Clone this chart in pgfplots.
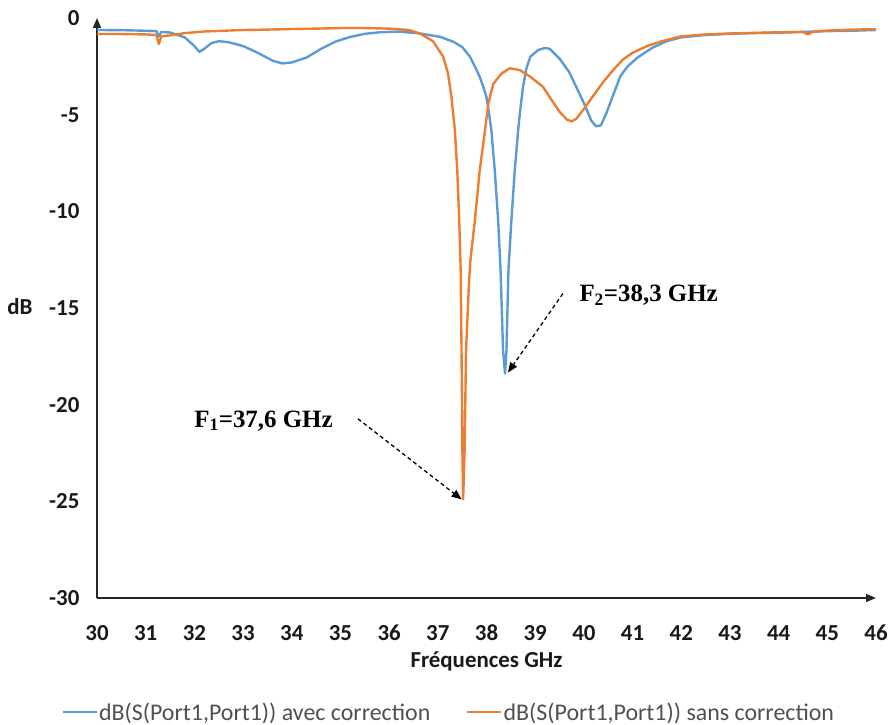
\documentclass[border=0pt]{standalone}
\usepackage{pgfplots}
\pgfplotsset{compat=1.18}
\usepackage{fontspec}
\setmainfont{Carlito}
\newfontfamily\timesfont{Liberation Serif}
\usetikzlibrary{arrows.meta}
\definecolor{cblue}{RGB}{91,155,213}
\definecolor{corange}{RGB}{237,125,49}
\definecolor{legtext}{RGB}{80,80,80}
\begin{document}
\begin{tikzpicture}
\begin{axis}[name=ax, scale only axis, width=779bp, height=580bp,
  xmin=30, xmax=46, ymin=-30, ymax=0,
  axis lines=left,
  axis line style={line width=1.6bp, color=black!85, -{Triangle[length=10bp,width=8bp]}},
  xtick={30,31,32,33,34,35,36,37,38,39,40,41,42,43,44,45,46},
  xticklabels={30,31,32,33,34,35,36,37,38,39,40,41,42,43,44,45,46},
  ytick={-30,-25,-20,-15,-10,-5,0},
  yticklabels={-30,-25,-20,-15,-10,-5,0},
  major tick length=0pt,
  tick label style={font=\fontsize{23}{27}\selectfont\bfseries, text=black!90},
  xticklabel style={anchor=center, yshift=-35bp},
  yticklabel style={anchor=east, xshift=-14bp},
  xlabel={Fréquences GHz},
  xlabel style={font=\fontsize{23}{27}\selectfont\bfseries, text=black!90, at={(axis description cs:0.5,-0.110)}, anchor=center},
  ylabel={dB},
  ylabel style={font=\fontsize{23}{27}\selectfont\bfseries, text=black!90, rotate=-90, at={(axis description cs:-0.099,0.502)}, anchor=center},
  legend columns=2,
  legend style={at={(axis description cs:0.451,-0.197)}, anchor=center, draw=none,
    font=\fontsize{24}{28}\selectfont,
    nodes={inner sep=1bp, text=legtext},
    /tikz/every even column/.append style={column sep=35bp}},
  legend image code/.code={\draw[#1] (0bp,0bp) -- (34bp,0bp);},
  clip=false,
]
\addplot[color=cblue, line width=2.4bp, line join=round] coordinates {
(30.0,-0.62) (30.5,-0.63) (31.0,-0.66) (31.22,-0.68) (31.27,-0.95) (31.32,-0.72)
(31.5,-0.75) (31.8,-1.0) (32.0,-1.45) (32.1,-1.75) (32.2,-1.6) (32.35,-1.3)
(32.5,-1.2) (32.7,-1.25) (33.0,-1.45) (33.3,-1.8) (33.6,-2.2) (33.8,-2.35)
(34.0,-2.3) (34.3,-2.05) (34.6,-1.6) (34.9,-1.22) (35.2,-0.98) (35.5,-0.82)
(35.8,-0.74) (36.2,-0.7) (36.63,-0.8) (37.04,-0.97) (37.32,-1.23) (37.5,-1.5)
(37.66,-2.0) (37.78,-2.6) (37.86,-3.04) (37.94,-3.6) (38.0,-4.1) (38.05,-4.9)
(38.1,-5.8) (38.17,-7.9) (38.24,-10.5) (38.29,-13.1) (38.34,-17.2) (38.38,-18.4)
(38.41,-17.2) (38.45,-13.1) (38.51,-10.5) (38.58,-7.9) (38.65,-5.8) (38.7,-4.6)
(38.75,-3.56) (38.82,-2.6) (38.9,-2.0) (39.06,-1.66) (39.2,-1.55) (39.3,-1.6)
(39.5,-2.1) (39.7,-2.8) (39.85,-3.6) (40.0,-4.4)
(40.15,-5.3) (40.25,-5.6) (40.35,-5.55) (40.45,-5.0) (40.6,-4.0) (40.75,-3.0)
(40.9,-2.5) (41.1,-2.05) (41.4,-1.55) (41.7,-1.2) (42.0,-1.0) (42.5,-0.88)
(43.0,-0.82) (43.5,-0.78) (44.0,-0.76) (44.5,-0.72) (45.0,-0.68) (45.5,-0.66)
(46.0,-0.62)
};
\addlegendentry{dB(S(Port1,Port1)) avec correction}
\addplot[color=corange, line width=2.4bp, line join=round] coordinates {
(30.0,-0.83) (30.5,-0.83) (31.0,-0.85) (31.22,-0.88) (31.27,-1.35) (31.32,-0.95)
(31.5,-0.9) (31.8,-0.78) (32.2,-0.7) (32.6,-0.66) (33.0,-0.62) (33.5,-0.6)
(34.0,-0.57) (34.5,-0.55) (35.0,-0.52) (35.5,-0.52) (36.0,-0.55) (36.4,-0.62)
(36.63,-0.8) (36.9,-1.2) (37.11,-2.0) (37.21,-2.87) (37.28,-4.08) (37.35,-5.8)
(37.40,-7.9) (37.44,-10.5) (37.47,-13.1) (37.49,-18.0) (37.505,-22.4) (37.52,-24.9)
(37.55,-22.4) (37.58,-17.2) (37.64,-13.7) (37.67,-12.5) (37.76,-10.5) (37.86,-7.9)
(37.97,-5.8) (38.04,-4.4) (38.14,-3.4) (38.31,-2.87) (38.48,-2.6) (38.69,-2.7)
(38.9,-3.04) (39.16,-3.56) (39.3,-4.1) (39.5,-4.85)
(39.65,-5.25) (39.75,-5.35) (39.85,-5.2) (40.0,-4.7) (40.2,-4.0) (40.4,-3.3)
(40.6,-2.7) (40.8,-2.15) (41.0,-1.8) (41.3,-1.45) (41.6,-1.2) (42.0,-0.95)
(42.5,-0.85) (43.0,-0.8) (43.5,-0.77) (44.0,-0.74) (44.5,-0.72) (44.6,-0.85)
(44.7,-0.72) (45.0,-0.65) (45.5,-0.6) (46.0,-0.58)
};
\addlegendentry{dB(S(Port1,Port1)) sans correction}
\draw[line width=1.3bp, dash pattern=on 4bp off 3bp, -{Triangle[length=10bp,width=8bp]}]
  (axis cs:35.36,-20.73) -- (axis cs:37.49,-24.9);
\draw[line width=1.3bp, dash pattern=on 4bp off 3bp, -{Triangle[length=10bp,width=8bp]}]
  (axis cs:39.57,-14.25) -- (axis cs:38.44,-18.34);
\node[font=\timesfont\bfseries\fontsize{25}{30}\selectfont] at (axis cs:33.42,-20.83) {F\textsubscript{1}=37,6 GHz};
\node[font=\timesfont\bfseries\fontsize{25}{30}\selectfont] at (axis cs:41.33,-14.36) {F\textsubscript{2}=38,3 GHz};
\end{axis}
\pgfresetboundingbox
\useasboundingbox ([shift={(-97bp,-127bp)}]ax.south west) rectangle ([shift={(12bp,18bp)}]ax.north east);
\end{tikzpicture}
\end{document}
